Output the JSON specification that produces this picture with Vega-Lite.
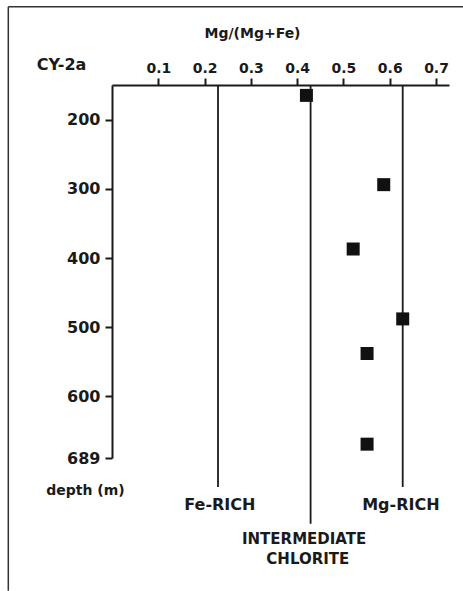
{
  "$schema": "https://vega.github.io/schema/vega-lite/v6.json",
  "autosize": "none",
  "width": 337,
  "height": 373,
  "padding": {"left": 112, "top": 85, "right": 14, "bottom": 133},
  "background": "#ffffff",
  "config": {
    "view": {"stroke": null},
    "font": "DejaVu Sans",
    "axis": {
      "grid": false,
      "domainColor": "#1a1a1a",
      "domainWidth": 2,
      "tickColor": "#1a1a1a",
      "tickWidth": 2,
      "tickSize": 7,
      "labelFont": "DejaVu Sans",
      "labelFontWeight": "bold",
      "labelColor": "#1a1a1a",
      "titleFont": "DejaVu Sans",
      "titleFontWeight": "bold",
      "titleColor": "#1a1a1a",
      "titleFontSize": 14
    }
  },
  "datasets": {
    "frame": [
      {"mg": -0.224, "mg2": -0.224, "depth": 37, "depth2": 881},
      {"mg": -0.224, "mg2": 0.76, "depth": 37, "depth2": 37}
    ],
    "chlorite": [
      {"type": "Fe-rich", "mg": 0.229, "depth": 150, "depth2": 731},
      {"type": "Intermediate", "mg": 0.429, "depth": 150, "depth2": 784},
      {"type": "Mg-rich", "mg": 0.628, "depth": 150, "depth2": 731}
    ],
    "samples": [
      {"mg": 0.42, "depth": 165},
      {"mg": 0.587, "depth": 294},
      {"mg": 0.521, "depth": 387},
      {"mg": 0.628, "depth": 488},
      {"mg": 0.551, "depth": 538},
      {"mg": 0.551, "depth": 669}
    ],
    "labels": [
      {"label": "Fe-RICH", "group": "end", "mg": 0.233, "depth": 757},
      {"label": "Mg-RICH", "group": "end", "mg": 0.624, "depth": 757},
      {"label": "INTERMEDIATE", "group": "mid", "mg": 0.415, "depth": 806},
      {"label": "CHLORITE", "group": "mid", "mg": 0.423, "depth": 835},
      {"label": "CY-2a", "group": "end", "mg": -0.109, "depth": 121}
    ]
  },
  "encoding": {
    "x": {
      "field": "mg",
      "type": "quantitative",
      "scale": {"domain": [0, 0.728], "nice": false, "zero": false},
      "axis": {
        "orient": "top",
        "values": [0.1, 0.2, 0.3, 0.4, 0.5, 0.6, 0.7],
        "format": ".1f",
        "labelFontSize": 14,
        "labelPadding": 3,
        "title": "Mg/(Mg+Fe)",
        "titleX": 140,
        "titleY": -52,
        "titleAlign": "center",
        "titleBaseline": "middle"
      }
    },
    "y": {
      "field": "depth",
      "type": "quantitative",
      "scale": {"domain": [150, 689], "nice": false, "zero": false, "reverse": true},
      "axis": {
        "values": [200, 300, 400, 500, 600, 689],
        "labelFontSize": 16,
        "labelPadding": 5,
        "title": "depth (m)",
        "titleAngle": 0,
        "titleX": -27,
        "titleY": 405,
        "titleAlign": "center",
        "titleBaseline": "middle"
      }
    }
  },
  "layer": [
    {
      "data": {"name": "frame"},
      "mark": {"type": "rule", "color": "#333333", "strokeWidth": 1.5},
      "encoding": {
        "x2": {"field": "mg2"},
        "y2": {"field": "depth2"}
      }
    },
    {
      "data": {"name": "chlorite"},
      "mark": {"type": "rule", "color": "#1a1a1a", "strokeWidth": 1.8},
      "encoding": {
        "y2": {"field": "depth2"}
      }
    },
    {
      "data": {"name": "samples"},
      "mark": {"type": "square", "filled": true, "color": "#111111", "size": 169, "opacity": 1}
    },
    {
      "data": {"name": "labels"},
      "transform": [{"filter": "datum.group === 'end'"}],
      "mark": {"type": "text", "font": "DejaVu Sans", "fontWeight": "bold", "fontSize": 16, "color": "#1a1a1a", "align": "center", "baseline": "middle"},
      "encoding": {
        "text": {"field": "label"}
      }
    },
    {
      "data": {"name": "labels"},
      "transform": [{"filter": "datum.group === 'mid'"}],
      "mark": {"type": "text", "font": "DejaVu Sans", "fontWeight": "bold", "fontSize": 15, "color": "#1a1a1a", "align": "center", "baseline": "middle"},
      "encoding": {
        "text": {"field": "label"}
      }
    }
  ]
}
